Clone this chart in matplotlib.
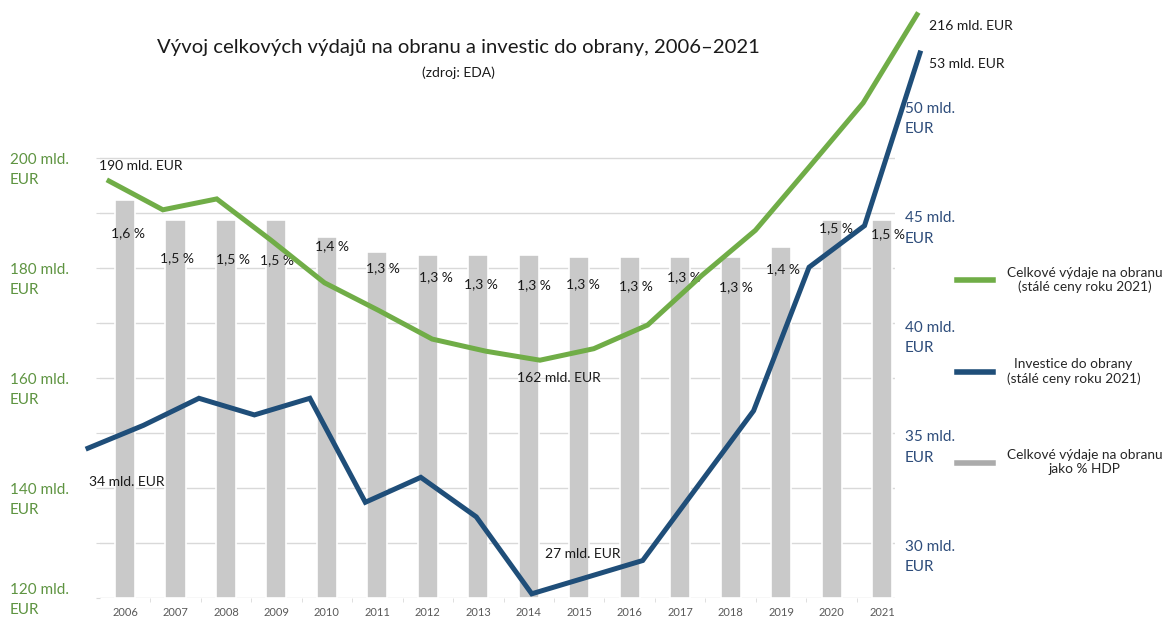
import matplotlib
matplotlib.use("Agg")
import matplotlib.pyplot as plt
from matplotlib.lines import Line2D

plt.rcParams['font.family'] = ['Lato', 'DejaVu Sans']

# data
years = list(range(2006, 2022))
total_spend = [190, 185.5, 187.2, 180.8, 174.1, 169.8, 165.3, 163.4,
               162, 163.8, 167.5, 175.2, 182.3, 192.2, 202.2, 216]
investment = [34, 35.1, 36.4, 35.6, 36.4, 31.4, 32.6, 30.7,
              27, 27.8, 28.6, 32.2, 35.8, 42.7, 44.7, 53]
gdp_share = [1.60, 1.52, 1.52, 1.52, 1.45, 1.39, 1.38, 1.38,
             1.38, 1.37, 1.37, 1.37, 1.37, 1.41, 1.52, 1.52]
gdp_labels = ['1,6 %', '1,5 %', '1,5 %', '1,5 %', '1,4 %', '1,3 %', '1,3 %', '1,3 %',
              '1,3 %', '1,3 %', '1,3 %', '1,3 %', '1,3 %', '1,4 %', '1,5 %', '1,5 %']
left_ticks = [120, 140, 160, 180, 200]
right_ticks = [30, 35, 40, 45, 50]

GREEN = '#70AD47'
NAVY = '#1F4E79'
BAR = '#C9C9C9'
GRID = '#D9D9D9'

W, H = 1169, 617


def px_rect(x0, y_top, x1, y_bot):
    return [x0 / W, 1 - y_bot / H, (x1 - x0) / W, (y_bot - y_top) / H]


fig = plt.figure(figsize=(W / 100, H / 100), dpi=100)

# base axes: grid, categories
ax = fig.add_axes(px_rect(100, 10, 895, 598))
ax.set_xlim(-0.495, 15.256)
ax.set_ylim(120, 120 + 588 / 5.5)
ax.set_yticks(range(120, 201, 10))
ax.grid(axis='y', color=GRID, lw=1)
ax.set_axisbelow(True)
ax.tick_params(axis='y', left=False, labelleft=False, right=True,
               length=3, color=GRID)
ax.set_xticks(range(len(years)), [str(y) for y in years])
ax.set_xticks([i + 0.5 for i in range(len(years) - 1)], minor=True)
ax.tick_params(axis='x', which='major', length=0, labelsize=8,
               colors='#595959', pad=6.5)
ax.tick_params(axis='x', which='minor', length=3, color=GRID)
for s in ax.spines.values():
    s.set_visible(False)

# left axis labels (green scale, text only)
for v in left_ticks:
    dy = -1.5 if v == left_ticks[0] else -8.6
    ax.annotate(f'{v} mld.\nEUR', xy=(10 / W, v),
                xycoords=('figure fraction', 'data'),
                xytext=(0, dy), textcoords='offset points',
                ha='left', va='center', fontsize=11, color='#5E9441',
                linespacing=1.6)

# bars: % of GDP
bax_bar = ax.twinx()
bax_bar.set_ylim(0, 588 / 248.75)
bax_bar.axis('off')
x = list(range(len(years)))
bax_bar.bar(x, gdp_share, width=0.4, color=BAR, edgecolor='white', lw=1.2)

bar_label_offsets = [(3, -33), (1.5, -38), (7, -39), (0.6, -40), (5, -9),
                     (5.6, -16), (8, -22), (3, -29), (5, -30), (4, -27),
                     (6, -29), (4, -20), (5, -30), (2, -22), (4, -8), (6, -14)]
for i, (h, lab) in enumerate(zip(gdp_share, gdp_labels)):
    dx, dy = bar_label_offsets[i]
    bax_bar.annotate(lab, xy=(i, h), xytext=(dx * 0.72, dy * 0.72),
                     textcoords='offset points', ha='center', va='center',
                     fontsize=10, color='#1A1A1A', zorder=5)

# right axis labels (investment scale, text only)
rax = ax.twinx()
rax.set_ylim(27.58, 54.43)
rax.axis('off')
for v in right_ticks:
    rax.annotate(f'{v} mld.\nEUR', xy=(905 / W, v),
                 xycoords=('figure fraction', 'data'),
                 xytext=(0, -8.6), textcoords='offset points',
                 ha='left', va='center', fontsize=11, color='#2E4D7B',
                 linespacing=1.6)

# total expenditure line
gax = fig.add_axes(px_rect(109, 10, 917, 598))
gax.set_xlim(2006, 2021)
gax.set_ylim((1397 - 598) / 6.4, (1397 - 10) / 6.4)
gax.axis('off')
gax.plot(years, total_spend, color=GREEN, lw=3.6, clip_on=False,
         solid_joinstyle='miter')

# investment line
iax = fig.add_axes(px_rect(88, 10, 920, 598))
iax.set_xlim(2006, 2021)
iax.set_ylim((1155.4 - 598) / 20.8, (1155.4 - 10) / 20.8)
iax.axis('off')
iax.plot(years, investment, color=NAVY, lw=3.6, clip_on=False,
         solid_joinstyle='miter')

ann = dict(textcoords='offset points', fontsize=10, color='#1A1A1A', va='center')
gax.annotate('190 mld. EUR', xy=(2006, total_spend[0]), xytext=(-7.2, 10.8), ha='left', **ann)
gax.annotate('162 mld. EUR', xy=(2014, total_spend[8]), xytext=(13.7, -13), ha='center', **ann)
gax.annotate('216 mld. EUR', xy=(2021, total_spend[-1]), xytext=(8.6, -8), ha='left', **ann)
iax.annotate('34 mld. EUR', xy=(2006, investment[0]), xytext=(0.7, -24.5), ha='left', **ann)
iax.annotate('27 mld. EUR', xy=(2014, investment[8]), xytext=(9.4, 28.8), ha='left', **ann)
iax.annotate('53 mld. EUR', xy=(2021, investment[-1]), xytext=(6.5, -8), ha='left', **ann)

# title
fig.text(458 / W, 1 - 48 / H, 'Vývoj celkových výdajů na obranu a investic do obrany, 2006–2021',
         ha='center', va='center', fontsize=14.6, color='#1A1A1A')
fig.text(458 / W, 1 - 73 / H, '(zdroj: EDA)', ha='center', va='center',
         fontsize=10, color='#1A1A1A')

# legend
handles = [Line2D([], [], color=GREEN, lw=4),
           Line2D([], [], color=NAVY, lw=4),
           Line2D([], [], color='#ABABAB', lw=4)]
labels = ['Celkové výdaje na obranu\n(stálé ceny roku 2021)',
          'Investice do obrany\n(stálé ceny roku 2021)',
          'Celkové výdaje na obranu\njako % HDP']
leg = fig.legend(handles, labels, loc='center left',
                 bbox_to_anchor=(957 / W, 1 - 371 / H), frameon=False,
                 fontsize=9.8, handlelength=2.65, handletextpad=1.0,
                 labelspacing=4.75, borderaxespad=0, borderpad=0)
for t in leg.get_texts():
    t.set_multialignment('center')
    t.set_color('#262626')

fig.savefig('out.png', dpi=100)
